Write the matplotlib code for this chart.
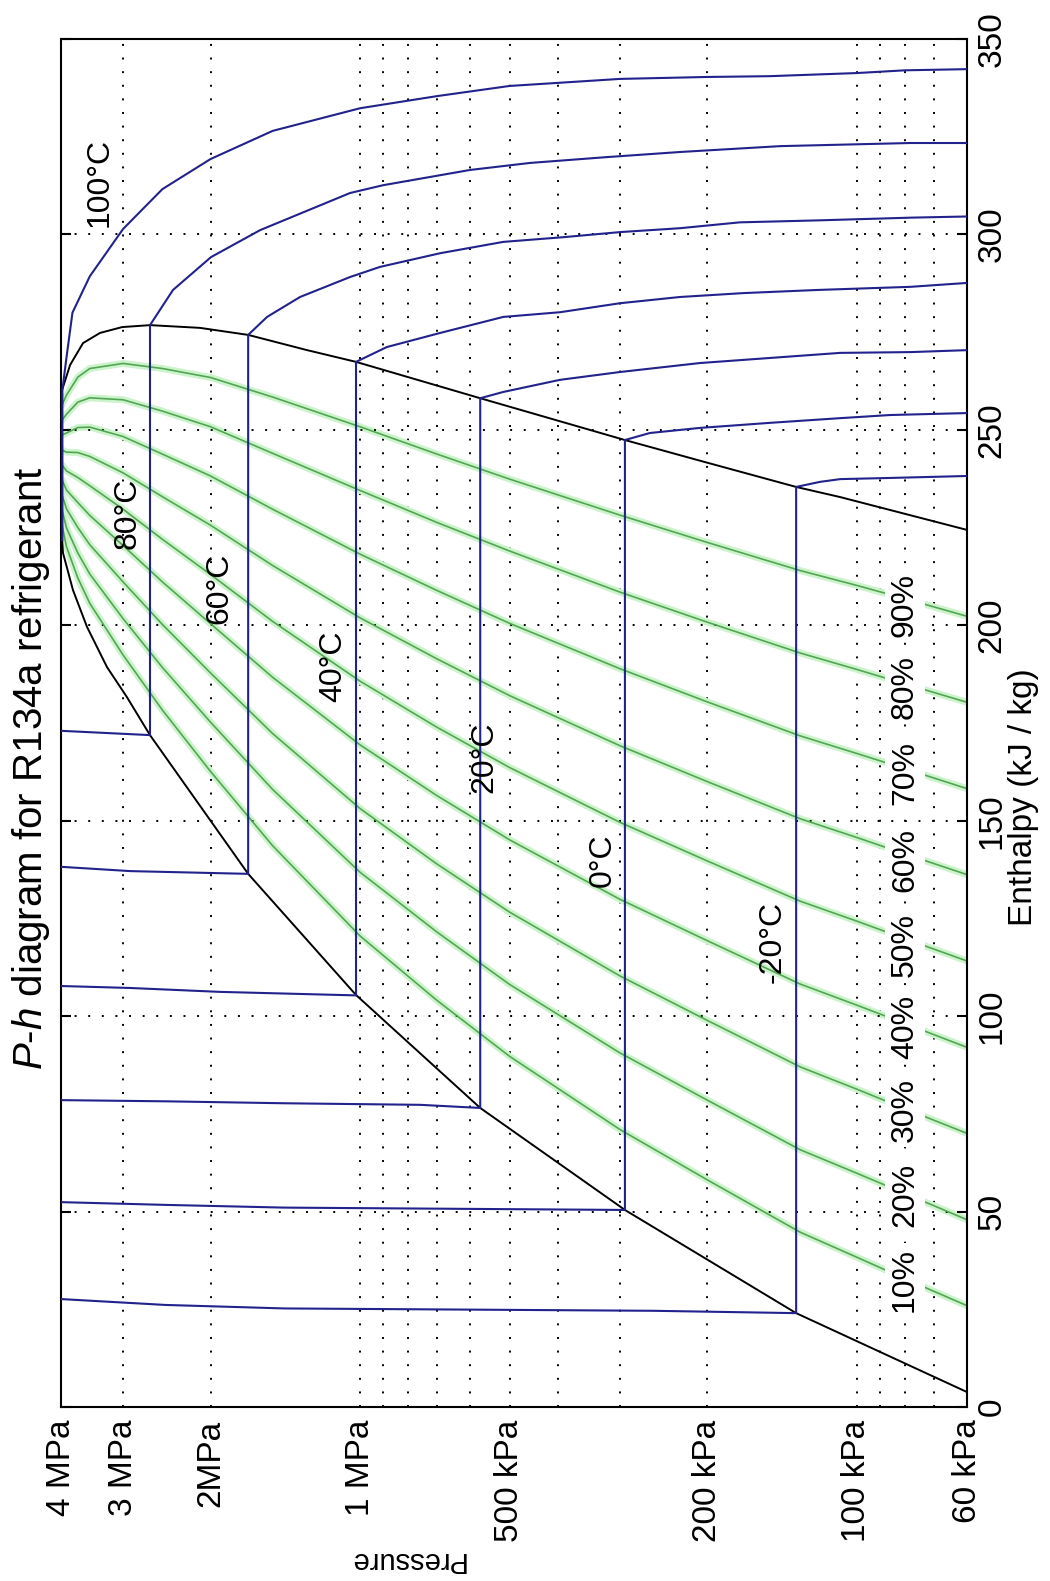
import matplotlib
matplotlib.use('Agg')
import matplotlib.pyplot as plt
from matplotlib.ticker import FixedLocator, FixedFormatter, MultipleLocator

plt.rcParams['font.family'] = ['Liberation Sans', 'DejaVu Sans']
plt.rcParams['mathtext.fontset'] = 'custom'
plt.rcParams['mathtext.it'] = 'Liberation Sans:italic'
plt.rcParams['mathtext.rm'] = 'Liberation Sans'

# saturation dome (pressure kPa, enthalpy kJ/kg)
liq_p = [60, 132.5, 293, 573, 1019, 1680, 2005, 2648, 2946, 3232, 3546, 3784, 3963, 3980]
liq_h = [3.8, 24.0, 50.4, 76.5, 105.4, 136.4, 150.2, 171.9, 181.6, 189.3, 199.6, 209.0, 218.5, 221.8]
vap_p = [60, 108, 132.5, 200, 293, 573, 1019, 1278, 1680, 2100, 2648, 3013, 3339, 3612, 3835, 3980]
vap_h = [224.4, 232.8, 235.4, 241.6, 247.4, 258.1, 267.4, 270.4, 274.3, 276.1, 276.8, 276.3, 274.8, 272.2, 266.6, 260.2]

# isotherms: liquid part, two-phase step, superheated part
t_m20_p = [4000, 2470, 1420, 257, 132.5, 132.5, 118.6, 108, 85.7, 60]
t_m20_h = [27.6, 26.1, 25.2, 24.6, 24.0, 235.4, 236.7, 237.4, 237.7, 238.2]
t_0_p = [4000, 2470, 1420, 293, 293, 261, 207, 149.5, 108, 85.7, 60]
t_0_h = [52.4, 51.7, 51.0, 50.4, 247.4, 249.2, 250.5, 251.8, 253.0, 253.8, 254.3]
t_20_p = [4000, 2470, 1420, 757, 573, 573, 515, 396, 300, 207, 108, 78, 60]
t_20_h = [78.5, 78.2, 77.7, 77.3, 76.5, 258.1, 259.7, 262.8, 264.8, 267.1, 269.7, 269.9, 270.4]
t_40_p = [4000, 2906, 1914, 1019, 1019, 883, 690, 515, 396, 300, 227, 169, 120, 78, 60]
t_40_h = [107.7, 107.2, 106.2, 105.3, 267.4, 271.2, 274.8, 278.9, 280.1, 282.4, 284.0, 285.0, 285.8, 286.6, 287.6]
t_60_p = [4000, 2900, 1680, 1680, 1539, 1321, 1048, 912, 690, 515, 390, 300, 227, 172, 120, 78, 60]
t_60_h = [138.2, 137.1, 136.4, 274.3, 278.9, 284.0, 289.1, 291.7, 295.2, 298.1, 299.3, 300.6, 301.6, 303.1, 303.6, 304.3, 304.6]
t_80_p = [4000, 2648, 2648, 2380, 1996, 1590, 1048, 899, 601, 455, 318, 227, 142.7, 78, 60]
t_80_h = [173.0, 171.9, 276.8, 285.8, 294.2, 301.1, 310.6, 312.6, 316.5, 318.3, 319.8, 321.1, 322.6, 323.4, 323.4]
t_100_p = [3975, 3975, 3900, 3793, 3500, 3000, 2500, 2000, 1500, 1000, 700, 500, 300, 200, 150, 100, 80, 60]
t_100_h = [221.8, 260.2, 268.5, 280.0, 289.3, 301.4, 311.6, 319.3, 326.5, 332.3, 335.4, 338.0, 339.8, 340.3, 340.5, 341.3, 342.0, 342.3]

iso_labels = ['100°C', '80°C', '60°C', '40°C', '20°C', '0°C', '-20°C']
iso_label_p = [3339, 2933, 1922, 1134, 563, 324, 148]
iso_label_h = [313.2, 228.7, 209.5, 189.6, 166.3, 139.9, 119.0]

# constant quality lines
q_p = [3980, 3900, 3700, 3500, 3000, 2500, 2000, 1500, 1000, 700, 500, 300, 200, 130, 100, 80, 60]
q10_h = [225.6, 220.1, 212.1, 205.6, 192.4, 178.3, 162.6, 143.6, 120.5, 104.0, 89.7, 71.0, 58.1, 44.7, 38.3, 32.8, 25.9]
q20_h = [229.5, 224.9, 218.5, 213.1, 201.7, 189.2, 175.2, 158.0, 136.8, 121.5, 108.1, 90.6, 78.5, 65.8, 59.8, 54.6, 47.9]
q30_h = [233.3, 229.8, 225.0, 220.6, 211.1, 200.2, 187.8, 172.3, 153.1, 138.9, 126.6, 110.3, 98.9, 87.0, 81.3, 76.3, 70.0]
q40_h = [237.2, 234.6, 231.4, 228.1, 220.4, 211.1, 200.4, 186.7, 169.4, 156.4, 145.1, 129.9, 119.3, 108.2, 102.8, 98.1, 92.0]
q50_h = [241.0, 239.5, 237.8, 235.7, 229.7, 222.0, 213.0, 201.0, 185.7, 173.9, 163.6, 149.6, 139.7, 129.4, 124.3, 119.8, 114.1]
q60_h = [244.8, 244.3, 244.2, 243.2, 239.0, 232.9, 225.6, 215.3, 201.9, 191.4, 182.0, 169.2, 160.0, 150.5, 145.7, 141.5, 136.2]
q70_h = [248.7, 249.2, 250.6, 250.7, 248.3, 243.8, 238.2, 229.7, 218.2, 208.9, 200.5, 188.9, 180.4, 171.7, 167.2, 163.3, 158.2]
q80_h = [252.5, 254.0, 257.1, 258.2, 257.7, 254.8, 250.8, 244.0, 234.5, 226.3, 219.0, 208.5, 200.8, 192.9, 188.7, 185.0, 180.3]
q90_h = [256.4, 258.9, 263.5, 265.7, 267.0, 265.7, 263.4, 258.4, 250.8, 243.8, 237.4, 228.2, 221.2, 214.0, 210.2, 206.8, 202.3]

q_labels = ['10%', '20%', '30%', '40%', '50%', '60%', '70%', '80%', '90%']
q_label_p = 80
q_label_h = [32.5, 54.3, 76.0, 97.2, 118.2, 140.0, 162.2, 184.2, 205.2]

p_ticks = [4000, 3000, 2000, 1000, 500, 200, 100, 60]
p_ticklabels = ['4 MPa', '3 MPa', '2MPa', '1 MPa', '500 kPa', '200 kPa', '100 kPa', '60 kPa']
p_grid = [70, 80, 90, 100, 200, 300, 400, 500, 600, 700, 800, 900, 1000, 2000, 3000]

blue = '#22228c'
dots = (0, (1, 6))

fig = plt.figure(figsize=(10.5, 15.81), dpi=100)
ax = fig.add_axes([0.0581, 0.1101, 0.8629, 0.8652])
ax.set_xscale('log')
ax.set_xlim(4000, 60)
ax.set_ylim(0, 350)

for p in p_grid:
    ax.axvline(p, color='k', lw=1.4, ls=dots, zorder=0.8)
ax.yaxis.set_major_locator(MultipleLocator(50))
ax.grid(axis='y', which='major', color='k', lw=1.4, ls=dots, zorder=0.8)

for qh in [q10_h, q20_h, q30_h, q40_h, q50_h, q60_h, q70_h, q80_h, q90_h]:
    ax.plot(q_p, qh, color='#cdf3cd', lw=5, solid_capstyle='round', zorder=1)
    ax.plot(q_p, qh, color='#52a652', lw=1.2, zorder=2)

ax.plot(liq_p + vap_p[::-1], liq_h + vap_h[::-1], color='k', lw=1.4, zorder=3)

for ip, ih in [(t_m20_p, t_m20_h), (t_0_p, t_0_h), (t_20_p, t_20_h), (t_40_p, t_40_h),
               (t_60_p, t_60_h), (t_80_p, t_80_h), (t_100_p, t_100_h)]:
    ax.plot(ip, ih, color=blue, lw=1.5, zorder=4)

for lab, lp, lh in zip(iso_labels, iso_label_p, iso_label_h):
    ax.text(lp, lh, lab, rotation=90, fontsize=23, ha='center', va='center', zorder=6)

for lab, lh in zip(q_labels, q_label_h):
    ax.text(q_label_p, lh, lab, rotation=90, fontsize=23, ha='center', va='center', zorder=6,
            bbox=dict(boxstyle='square,pad=0.15', fc='white', ec='none'))

# pressure axis: labels at fixed values, tick marks only at decades
ax.xaxis.set_major_locator(FixedLocator(p_ticks))
ax.xaxis.set_major_formatter(FixedFormatter(p_ticklabels))
ax.xaxis.set_minor_locator(FixedLocator([100, 1000]))
ax.tick_params(axis='x', which='major', length=0, labelsize=24, labelrotation=90, pad=9)
ax.tick_params(axis='x', which='minor', direction='in', length=8, width=1.5, top=True, bottom=True)

ax.tick_params(axis='y', which='major', direction='in', length=7, width=1.5, left=True, right=True,
               labelleft=False, labelright=True, labelsize=24, labelrotation=90, pad=7)
for t in ax.get_yticklabels():
    t.set_va('center')

for s in ax.spines.values():
    s.set_linewidth(1.5)

fig.text(0.0300, 0.5142, r'$P$-$h$ diagram for R134a refrigerant', rotation=90, fontsize=29,
         ha='center', va='center')
fig.text(0.9743, 0.4959, 'Enthalpy (kJ / kg)', rotation=90, fontsize=24, ha='center', va='center')
fig.text(0.3867, 0.0133, 'Pressure', rotation=180, fontsize=21, ha='center', va='center')

fig.savefig('out.png', dpi=100)
